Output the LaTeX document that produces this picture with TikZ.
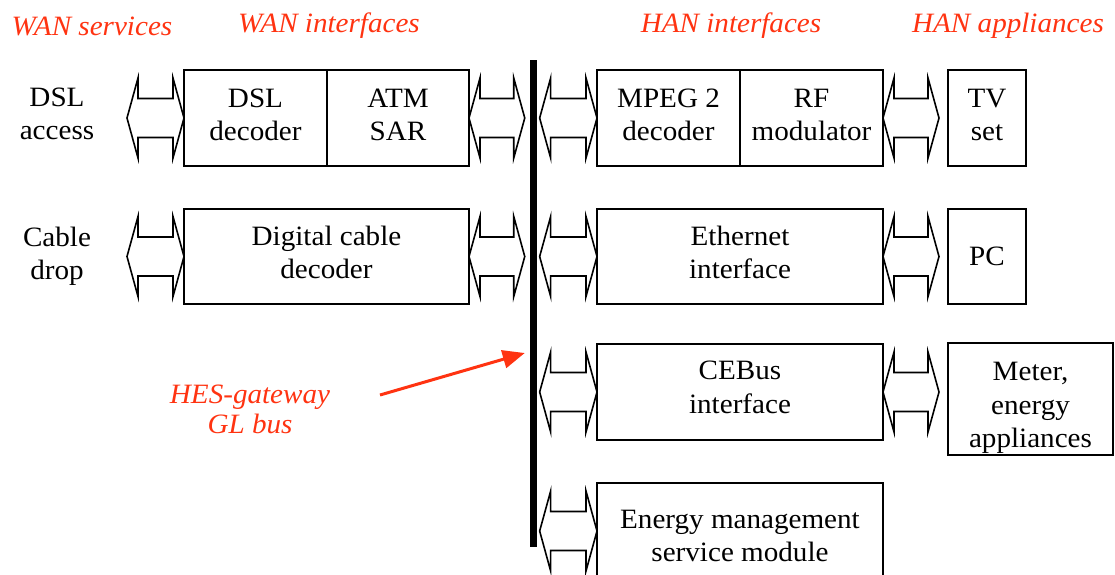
\documentclass[tikz,border=0pt]{standalone}
\usepackage{fontspec}
\setmainfont[FakeStretch=1.04]{Liberation Serif}
\usetikzlibrary{positioning,arrows.meta,calc}
\definecolor{cRed}{HTML}{FF3311}
\definecolor{cInk}{HTML}{000000}
% block arrow with a head at both ends, between two points at one height
\newcommand{\biarrow}[2]{%
  \path (#1) coordinate (ba) (#2) coordinate (bb);
  \draw[biarr] (ba) -- ++(11,-40) -- ++(0,20.5) -- ($(bb)+(-11,-19.5)$)
    -- ++(0,-20.5) -- (bb) -- ++(-11,40) -- ++(0,-20.5)
    -- ($(ba)+(11,19.5)$) -- ++(0,20.5) -- cycle;}

\begin{document}
\begin{tikzpicture}[x=1pt,y=-1pt,font=\fontsize{28}{33.5}\selectfont,
      blk/.style={draw=cInk,line width=1.6pt,inner sep=0pt,outer sep=0pt,minimum height=96pt},
      lbl/.style={align=center,inner sep=0pt},
      redlbl/.style={align=center,inner sep=0pt,text=cRed,font=\fontsize{28}{30}\selectfont\itshape},
      biarr/.style={draw=cInk,line width=1.6pt,fill=white},
      gl/.style={draw=cRed,line width=3pt,-{Triangle[length=22pt,width=18pt]}}]
    \useasboundingbox (0,0) rectangle (1115,574);
    \clip (0,0) rectangle (1115,574);
    % headings
    \node[redlbl] (wansrv) at (92,26) {WAN services};
    \node[redlbl] (wanif) at (329,26) {WAN interfaces};
    \node[redlbl] (hanif) at (731,26) {HAN interfaces};
    \node[redlbl] (hanapp) at (1008,26) {HAN appliances};
    % the bus
    \node[fill=black,inner sep=0pt,minimum width=7.5pt,minimum height=487pt] (bus) at (533.7,303.5) {};
    % WAN side
    \node[lbl] (dslacc) at (57,114) {DSL\\access};
    \node[lbl] (cabdrop) at (57,256.5) {Cable\\drop};
    \node[blk,minimum width=143pt] (dsldec) at (255.5,118) {};
    \node[blk,minimum width=142pt,right=0pt of dsldec] (atmsar) {};
    \node[blk,minimum width=285pt,minimum height=95pt] (cabdec) at (326.5,256.5) {};
    % HAN side
    \node[blk,minimum width=143pt] (mpeg) at (668.5,118) {};
    \node[blk,minimum width=143pt,right=0pt of mpeg] (rfmod) {};
    \node[blk,minimum width=78pt] (tvset) at (987,118) {};
    \node[blk,minimum width=286pt,minimum height=95pt] (ether) at (740,256.5) {};
    \node[blk,minimum width=78pt,minimum height=95pt] (pc) at (987,256.5) {};
    \node[blk,minimum width=286pt] (cebus) at (740,392) {};
    \node[blk,minimum width=165pt,minimum height=112pt] (meter) at (1030.5,399) {};
    \node[blk,minimum width=286pt] (energy) at (740,531) {};
    % texts of the blocks
    \foreach \b/\dy/\t in {dsldec/-3/{DSL\\decoder},atmsar/-3/{ATM\\SAR},
        cabdec/-4/{Digital cable\\decoder},mpeg/-3/{MPEG 2\\decoder},
        rfmod/-3/{RF\\modulator},tvset/-3/{TV\\set},ether/-4/{Ethernet\\interface},
        pc/0/{PC},cebus/-4.5/{CEBus\\interface},meter/9/{Meter,\\energy\\appliances},
        energy/5/{Energy management\\service module}}
      \node[lbl] (\b-t) at ($(\b)+(0,\dy)$) {\t};
    % free ends of the arrows
    \coordinate (dslin) at ($(dsldec.west)+(-57,0)$);
    \coordinate (cabin) at ($(cabdec.west)+(-57,0)$);
    \foreach \n/\b in {1/atmsar,2/cabdec}
      \coordinate (wbus\n) at ($(bus.west |- \b.east)+(-5,0)$);
    \foreach \n/\b in {1/mpeg,2/ether,3/cebus,4/energy}
      \coordinate (hbus\n) at ($(bus.east |- \b.west)+(2,0)$);
    \foreach \n/\b/\c in {1/rfmod/tvset,2/ether/pc,3/cebus/meter}
      \coordinate (app\n) at ($(\c.west |- \b.east)+(-9,0)$);
    \foreach \a/\b in {dslin/dsldec.west,atmsar.east/wbus1,cabin/cabdec.west,cabdec.east/wbus2,
        hbus1/mpeg.west,hbus2/ether.west,hbus3/cebus.west,hbus4/energy.west,
        rfmod.east/app1,ether.east/app2,cebus.east/app3}
      \biarrow{\a}{\b};
    % gateway bus label
    \node[redlbl] (hesgl) at (250,409) {HES-gateway\\GL bus};
    \coordinate (glfrom) at (380,395);
    \coordinate (glto) at ($(bus.west |- 0,353)+(-5,0)$);
    \draw[gl] (glfrom) -- (glto);
  \end{tikzpicture}
\end{document}
